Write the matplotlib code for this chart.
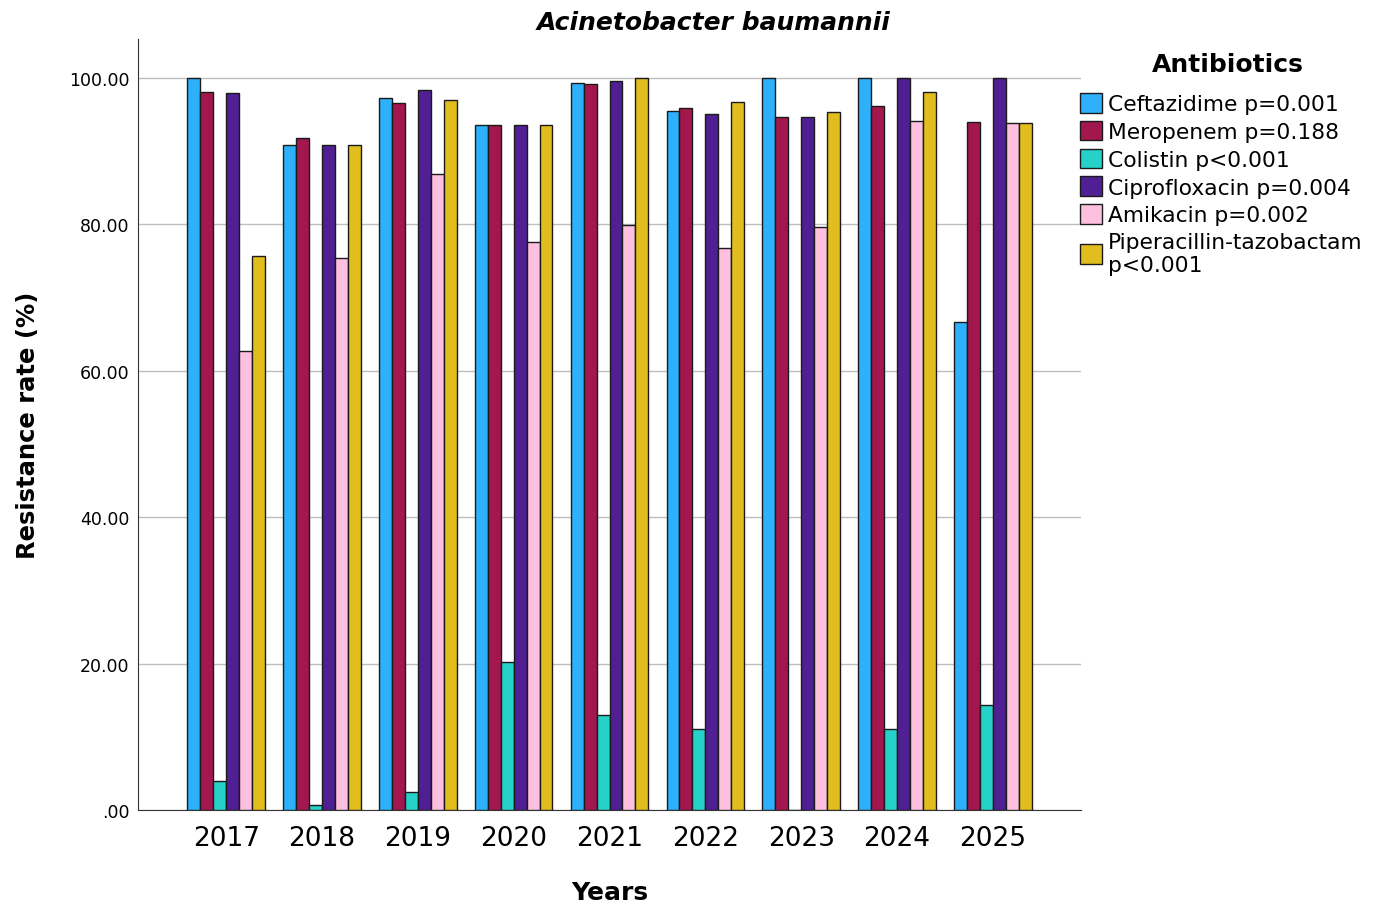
import numpy as np
import matplotlib
matplotlib.use('Agg')
import matplotlib.pyplot as plt

years = ['2017', '2018', '2019', '2020', '2021', '2022', '2023', '2024', '2025']

antibiotics = ['Ceftazidime p=0.001', 'Meropenem p=0.188', 'Colistin p<0.001',
               'Ciprofloxacin p=0.004', 'Amikacin p=0.002',
               'Piperacillin-tazobactam\np<0.001']

ceftazidime = [100.0, 90.8, 97.2, 93.6, 99.3, 95.5, 100.0, 100.0, 66.7]
meropenem = [98.1, 91.8, 96.5, 93.6, 99.1, 95.9, 94.6, 96.2, 93.9]
colistin = [4.0, 0.7, 2.4, 20.2, 13.0, 11.1, 0.0, 11.1, 14.4]
ciprofloxacin = [97.9, 90.8, 98.4, 93.6, 99.5, 95.0, 94.6, 100.0, 100.0]
amikacin = [62.7, 75.4, 86.8, 77.6, 79.9, 76.8, 79.6, 94.1, 93.8]
pip_tazo = [75.6, 90.8, 97.0, 93.6, 100.0, 96.7, 95.3, 98.1, 93.8]

series = [ceftazidime, meropenem, colistin, ciprofloxacin, amikacin, pip_tazo]
colors = ['#2FB0FB', '#A3174F', '#25D1C8', '#4F1F93', '#FDC0DE', '#E1BD1D']

fig = plt.figure(figsize=(13.83, 9.12), dpi=100)
ax = fig.add_axes([138/1383, 1-811/912, (1081-138)/1383, (811-40)/912])

x = np.arange(len(years))
w = 0.135
for i, (vals, c, lab) in enumerate(zip(series, colors, antibiotics)):
    ax.bar(x + (i - 2.5)*w, vals, width=w, color=c, edgecolor='#1a1a1a',
           linewidth=1.0, label=lab, zorder=3)

ax.set_xlim(-0.92, len(years) - 1 + 0.92)
ax.set_ylim(0, 105.3)
ax.set_yticks([0, 20, 40, 60, 80, 100])
ax.set_yticklabels(['.00', '20.00', '40.00', '60.00', '80.00', '100.00'], fontsize=12.5)
ax.set_xticks(x)
ax.set_xticklabels(years, fontsize=19)
ax.tick_params(axis='both', length=0, pad=6)
ax.tick_params(axis='x', pad=11)
ax.yaxis.grid(True, color='#bfbfbf', linewidth=1.0, zorder=0)
ax.set_axisbelow(True)
for s in ['top', 'right']:
    ax.spines[s].set_visible(False)
ax.spines['left'].set_color('#333333')
ax.spines['bottom'].set_color('#333333')

ax.set_xlabel('Years', fontsize=18, fontweight='bold', labelpad=21)
ax.set_ylabel('Resistance rate (%)', fontsize=17.5, fontweight='bold', labelpad=21)
fig.text(714/1383, 1-23/912, 'Acinetobacter baumannii', fontsize=18,
         fontweight='bold', style='italic', ha='center', va='center')

fig.text(1228/1383, 1-65/912, 'Antibiotics', fontsize=18, fontweight='bold',
         ha='center', va='center')
leg = fig.legend(loc='upper left', bbox_to_anchor=(1080/1383, 1-94/912),
                 bbox_transform=fig.transFigure, frameon=False,
                 fontsize=15.7, handlelength=1.0, handleheight=1.0,
                 handletextpad=0.3, labelspacing=0.3, borderpad=0,
                 borderaxespad=0)

fig.savefig('out.png', dpi=100)
